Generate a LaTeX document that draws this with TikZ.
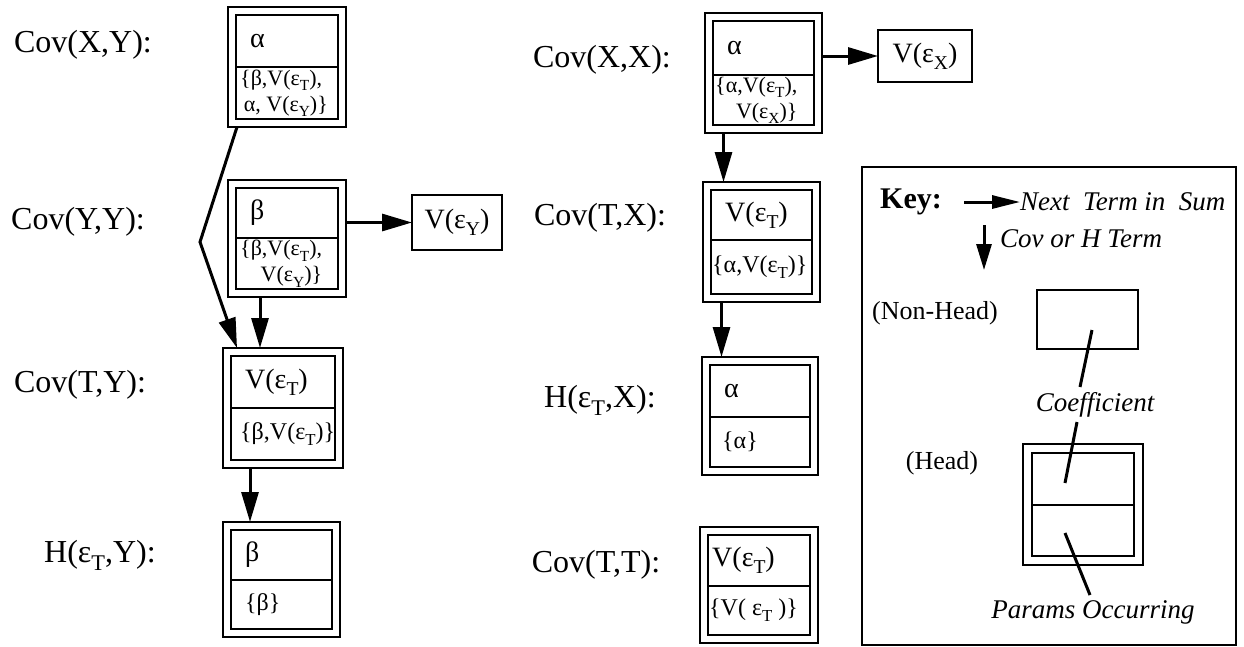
\documentclass[tikz,border=0pt]{standalone}
\usepackage{fontspec}
\setmainfont{Liberation Serif}
\usepackage{graphicx}
\usetikzlibrary{arrows.meta,calc}
\newcommand\sbs[1]{\raisebox{-0.25em}{\scalebox{0.7}{#1}}}
\newcommand\ltwo[2]{{\fontsize{22}{26}\selectfont\begin{tabular}{@{}l@{}}#1\\#2\end{tabular}}}
\newcommand\rtwo[2]{{\fontsize{22}{26}\selectfont\begin{tabular}{@{}r@{}}#1\\#2\end{tabular}}}
\newcommand\headbox[9]{%
  \node[outerb, minimum width={#4-#2}, minimum height={#5-#3}] (#1) at ({(#2+#4)/2},{(#3+#5)/2}) {};
  \draw[innerb] ({#2+8},{#3+8}) rectangle ({#4-8},{#5-8});
  \draw[divb] ({#2+8},#6) -- ({#4-8},#6);
  \node[toptxt] (#1-t) at ({#2+22},{(#3+8+#6)/2}) {#7};
  \node[bottxt] (#1-b) at ({#2+8+#8},{(#6+#5-8)/2}) {#9};
}
\tikzset{
  outerb/.style={draw, rectangle, line width=2.6pt, inner sep=0pt, outer sep=0pt},
  innerb/.style={line width=2.6pt},
  divb/.style={line width=2pt},
  plainb/.style={draw, rectangle, line width=2.6pt, inner sep=0pt, outer sep=0pt},
  toptxt/.style={anchor=west, inner sep=0pt, font=\fontsize{28}{32}\selectfont},
  bottxt/.style={anchor=west, inner sep=0pt, font=\fontsize{24}{26}\selectfont},
  lbl/.style={inner sep=0pt, font=\fontsize{32}{38}\selectfont},
  arr/.style={line width=3pt, -{Triangle[length=30pt,width=17pt]}},
  karr/.style={line width=3pt, -{Triangle[length=28pt,width=13pt]}},
  kdarr/.style={line width=3pt, -{Triangle[length=26pt,width=15pt]}},
  leader/.style={line width=3pt},
  keyit/.style={inner sep=0pt, font=\fontsize{27}{32}\selectfont\itshape},
  keyrm/.style={inner sep=0pt, font=\fontsize{26}{30}\selectfont},
}
\begin{document}
\begin{tikzpicture}[x=1pt,y=-1pt]
\useasboundingbox (0,0) rectangle (1244,646);
\fill[white] (0,0) rectangle (1244,646);

% row labels
\node[lbl] (lXY) at (83,45) {Cov(X,Y):};
\node[lbl] (lYY) at (78,222) {Cov(Y,Y):};
\node[lbl] (lTY) at (80,385) {Cov(T,Y):};
\node[lbl] (lHY) at (100,555) {H(ε\sbs{T},Y):};
\node[lbl] (lXX) at (602,60) {Cov(X,X):};
\node[lbl] (lTX) at (600,218) {Cov(T,X):};
\node[lbl] (lHX) at (600,400) {H(ε\sbs{T},X):};
\node[lbl] (lTT) at (596,565) {Cov(T,T):};

% left column
\headbox{A}{228}{7}{346}{127}{67}{α}{4}{\ltwo{\{β,V(ε\sbs{T}),}{\,α, V(ε\sbs{Y})\}}}
\headbox{B}{228}{180}{346}{297}{238}{β}{4}{\rtwo{\{β,V(ε\sbs{T}),}{V(ε\sbs{Y})\}}}
\headbox{C}{223}{348}{343}{468}{408}{V(ε\sbs{T})}{9}{\{β,V(ε\sbs{T})\}}
\headbox{D}{223}{522}{340}{637}{580}{β}{14}{\{β\}}
\node[plainb, minimum width=90, minimum height=55, font=\fontsize{28}{32}\selectfont] (VY) at (457,222.5) {V(ε\sbs{Y})};

% right column
\headbox{E}{705}{13}{822}{133}{75}{α}{2}{\rtwo{\{α,V(ε\sbs{T}),}{V(ε\sbs{X})\}}}
\headbox{F}{703}{182}{820}{302}{240}{V(ε\sbs{T})}{1}{\{α,V(ε\sbs{T})\}}
\headbox{G}{702}{357}{818}{475}{417}{α}{12}{\{α\}}
\headbox{H}{700}{527}{818}{643}{586}{\hspace*{-10pt}V(ε\sbs{T})}{1}{\{V( ε\sbs{T} )\}}
\node[plainb, minimum width=94, minimum height=52, font=\fontsize{28}{32}\selectfont] (VX) at (925,56) {V(ε\sbs{X})};

% connectors
\coordinate (bend) at (200,242);
\draw[arr] ([xshift=9pt]A.south west) -- (bend) -- ([xshift=14pt]C.north west);
\draw[arr] ([xshift=-27pt]B.south) -- ([xshift=-27pt]B.south |- C.north);
\draw[arr] ([xshift=-33pt]C.south) -- ([xshift=-33pt]C.south |- D.north);
\draw[arr] (VY.west -| B.east) -- (VY.west);
\draw[arr] ([xshift=-40pt]E.south) -- ([xshift=-40pt]E.south |- F.north);
\draw[arr] ([xshift=-40pt]F.south) -- ([xshift=-40pt]F.south |- G.north);
\draw[arr] (VX.west -| E.east) -- (VX.west);

% key
\node[draw, rectangle, line width=2.4pt, minimum width=374, minimum height=478, inner sep=0pt] (keybox) at (1049,406) {};
\node[inner sep=0pt, anchor=west, font=\fontsize{30}{34}\selectfont\bfseries] (key) at (880,202) {Key:};
\node[keyit, anchor=west] (next) at (1020,202) {Next\hspace{0.5em}Term in\hspace{0.5em}Sum};
\draw[karr] ([xshift=22pt]key.east) -- (next.west);
\coordinate (kd1) at (984,225);
\coordinate (kd2) at (984,270);
\draw[kdarr] (kd1) -- (kd2);
\node[keyit, anchor=west] (covh) at (1000,239) {Cov or H Term};
\node[keyrm] (nonhead) at (935,313) {(Non-Head)};
\node[plainb, minimum width=101, minimum height=59] (nh) at (1087.5,319.5) {};
\node[keyit] (coef) at (1095,405) {Coefficient};
\node[keyrm] (head) at (942,463) {(Head)};
\node[outerb, minimum width=120, minimum height=121] (hb) at (1083,504.5) {};
\draw[innerb] (1032,453) rectangle (1134,556);
\draw[divb] (1032,505) -- (1134,505);
\node[keyit] (params) at (1093,612) {Params Occurring};
\coordinate (c1) at (1092,330);
\coordinate (c2) at (1080,387);
\coordinate (c3) at (1077,422);
\coordinate (c4) at (1065,483);
\coordinate (p1) at (1065,533);
\coordinate (p2) at (1090,595);
\draw[leader] (c1) -- (c2);
\draw[leader] (c3) -- (c4);
\draw[leader] (p1) -- (p2);
\end{tikzpicture}
\end{document}
